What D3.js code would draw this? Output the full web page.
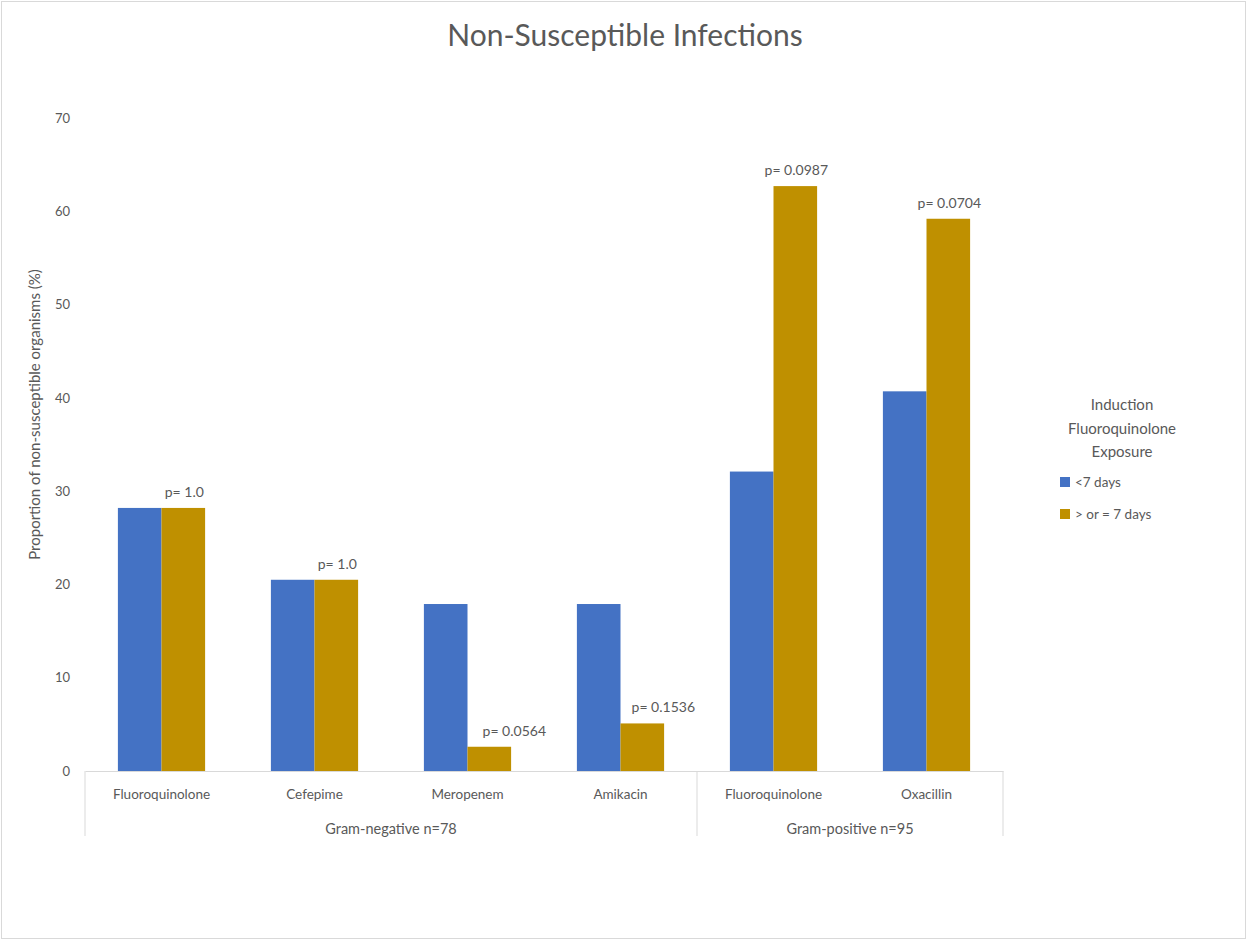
<!DOCTYPE html>
<html>
<head>
<meta charset="utf-8">
<script src="https://cdn.jsdelivr.net/npm/d3@7"></script>
<style>
  body { margin: 0; background: #fff; }
  text { font-family: "Lato", "Open Sans", sans-serif; fill: #595959; }
</style>
</head>
<body>
<svg id="chart" width="1247" height="940"></svg>
<script>
const categories = ["Fluoroquinolone", "Cefepime", "Meropenem", "Amikacin", "Fluoroquinolone", "Oxacillin"];
const groups = [
  { name: "Gram-negative n=78", count: 4 },
  { name: "Gram-positive n=95", count: 2 }
];
const seriesNames = ["<7 days", "> or = 7 days"];
const lessThan7 = [28.2, 20.5, 17.9, 17.9, 32.1, 40.7];
const atLeast7 = [28.2, 20.5, 2.6, 5.1, 62.7, 59.2];
const pLabels = ["p= 1.0", "p= 1.0", "p= 0.0564", "p= 0.1536", "p= 0.0987", "p= 0.0704"];
const yTicks = [0, 10, 20, 30, 40, 50, 60, 70];
const colors = ["#4472C4", "#BF9000"];

(function () {
// manual label nudges (layout only), as placed in the original chart
const labelDx = [0, 0, 24, 20, 0, 0];

const svg = d3.select("#chart");
svg.append("rect").attr("x", 1.5).attr("y", 1.5).attr("width", 1244).attr("height", 937)
  .attr("fill", "#fff").attr("stroke", "#d9d9d9");

const pLeft = 85, pRight = 1003, pTop = 118, pBottom = 771;
const idx = categories.map((d, i) => i);
const x0 = d3.scaleBand().domain(idx).range([pLeft, pRight]).padding(0);
const x1 = d3.scaleBand().domain([0, 1]).range([x0.bandwidth() * 0.215, x0.bandwidth() * 0.785]).padding(0);
const y = d3.scaleLinear().domain([0, 70]).range([pBottom, pTop]);

// title
svg.append("text").attr("x", 625).attr("y", 46).attr("text-anchor", "middle")
  .style("font-size", "30px").text("Non-Susceptible Infections");

// y axis
const yAxis = d3.axisLeft(y).tickValues(yTicks).tickSize(0).tickPadding(0);
const yg = svg.append("g").attr("transform", `translate(${pLeft - 15},0)`).call(yAxis);
yg.select(".domain").remove();
yg.selectAll("text").style("font-size", "13px").attr("fill", "#595959").style("font-family", "Lato, sans-serif");

svg.append("text").attr("transform", `translate(40,${(pTop + pBottom) / 2 - 30}) rotate(-90)`)
  .attr("text-anchor", "middle").style("font-size", "15px")
  .text("Proportion of non-susceptible organisms (%)");

// bars
const data = idx.map(i => [lessThan7[i], atLeast7[i]]);
const cg = svg.append("g").selectAll("g").data(data).join("g")
  .attr("transform", (d, i) => `translate(${x0(i)},0)`);
cg.selectAll("rect").data(d => d).join("rect")
  .attr("x", (d, j) => x1(j)).attr("width", x1.bandwidth())
  .attr("y", d => y(d)).attr("height", d => pBottom - y(d))
  .attr("fill", (d, j) => colors[j]);

// p labels
svg.append("g").selectAll("text").data(idx).join("text")
  .attr("x", i => x0(i) + x1(1) + x1.bandwidth() / 2 + 1 + labelDx[i])
  .attr("y", i => y(atLeast7[i]) - 11)
  .attr("text-anchor", "middle").style("font-size", "14px")
  .text(i => pLabels[i]);

// x axis
const xAxis = d3.axisBottom(x0).tickSize(0).tickPadding(0).tickFormat(i => categories[i]);
const xg = svg.append("g").attr("transform", `translate(0,${pBottom})`).call(xAxis);
xg.select(".domain").attr("stroke", "#d9d9d9");
xg.selectAll("text").attr("dy", "28px").style("font-size", "13.5px").attr("fill", "#595959")
  .style("font-family", "Lato, sans-serif");

// group separators and labels
let start = 0;
const bounds = [0];
groups.forEach(g => { start += g.count; bounds.push(start); });
bounds.forEach(b => {
  const xx = b < categories.length ? x0(b) : pRight;
  svg.append("line").attr("x1", xx).attr("x2", xx).attr("y1", pBottom).attr("y2", 836)
    .attr("stroke", "#d9d9d9");
});
groups.forEach((g, k) => {
  const a = x0(bounds[k]);
  const b = bounds[k + 1] < categories.length ? x0(bounds[k + 1]) : pRight;
  svg.append("text").attr("x", (a + b) / 2).attr("y", 834).attr("text-anchor", "middle")
    .style("font-size", "14.5px").text(g.name);
});

// legend
const legendTitle = ["Induction", "Fluoroquinolone", "Exposure"];
svg.append("g").selectAll("text").data(legendTitle).join("text")
  .attr("x", 1122).attr("y", (d, i) => 410 + i * 23.5).attr("text-anchor", "middle")
  .style("font-size", "15px").text(d => d);
const lg = svg.append("g").selectAll("g").data(seriesNames).join("g")
  .attr("transform", (d, i) => `translate(1060,${482 + i * 32})`);
lg.append("rect").attr("x", 0).attr("y", -5).attr("width", 10).attr("height", 10)
  .attr("fill", (d, i) => colors[i]);
lg.append("text").attr("x", 15).attr("y", 5).style("font-size", "13.5px").text(d => d);
})();
</script>
</body>
</html>
